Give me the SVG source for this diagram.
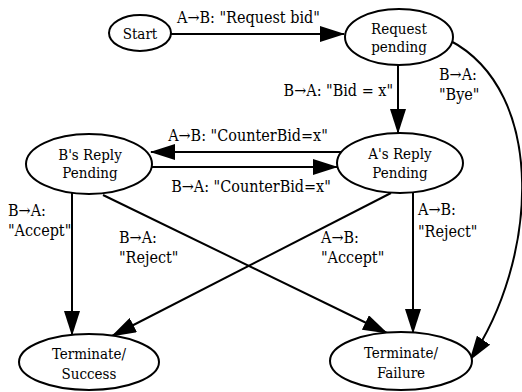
<svg xmlns="http://www.w3.org/2000/svg" width="522" height="392" viewBox="0 0 522 392">
<style>
  text { font-family: 'DejaVu Serif', serif; font-size: 15px; font-stretch: condensed; fill: #000; }
  .l { font-size: 16px; }
  .c { text-anchor: middle; }
  .e { text-anchor: end; }
  ellipse { fill: #fff; stroke: #000; stroke-width: 2; }
  .edge { fill: none; stroke: #000; stroke-width: 2; marker-end: url(#ah); }
</style>
<defs>
  <marker id="ah" markerUnits="userSpaceOnUse" viewBox="0 0 25 16" markerWidth="25" markerHeight="16" refX="24" refY="8" orient="auto">
    <path d="M0,0 L25,8 L0,16 z" fill="#000"/>
  </marker>
</defs>
<rect width="522" height="392" fill="#fff"/>
<g id="connectors">
  <path class="edge" d="M171,34 L344,34"/>
  <path class="edge" d="M398,65 L398,133"/>
  <path class="edge" d="M341,152 L151,152"/>
  <path class="edge" d="M152,167 L337,167"/>
  <path class="edge" d="M72,193 L72,335"/>
  <path class="edge" d="M103,195 L387,333"/>
  <path class="edge" d="M391,193 L112,336"/>
  <path class="edge" d="M413,193 L413,333"/>
  <path class="edge" d="M449,40 C549,92 537,262 470,360"/>
  <text class="l" x="177" y="23">A→B: "Request bid"</text>
  <text class="l e" x="393" y="96">B→A: "Bid = x"</text>
  <text class="l" x="439" y="80">B→A:</text>
  <text class="l" x="439" y="100">"Bye"</text>
  <text class="l c" x="248" y="141">A→B: "CounterBid=x"</text>
  <text class="l c" x="251" y="192">B→A: "CounterBid=x"</text>
  <text class="l" x="8" y="216">B→A:</text>
  <text class="l" x="8" y="236">"Accept"</text>
  <text class="l" x="119" y="243">B→A:</text>
  <text class="l" x="119" y="263">"Reject"</text>
  <text class="l" x="321" y="243">A→B:</text>
  <text class="l" x="321" y="263">"Accept"</text>
  <text class="l" x="418" y="215">A→B:</text>
  <text class="l" x="418" y="237">"Reject"</text>
</g>
<g id="start">
  <ellipse cx="140" cy="33" rx="31" ry="18"/>
  <text class="c" x="140" y="39">Start</text>
</g>
<g id="request-pending">
  <ellipse cx="399" cy="37" rx="54" ry="28"/>
  <text class="c" x="399" y="34">Request</text>
  <text class="c" x="399" y="52">pending</text>
</g>
<g id="b-reply-pending">
  <ellipse cx="89" cy="164" rx="63" ry="30"/>
  <text class="c" x="90" y="160">B's Reply</text>
  <text class="c" x="90" y="178">Pending</text>
</g>
<g id="a-reply-pending">
  <ellipse cx="400" cy="163" rx="63" ry="30"/>
  <text class="c" x="400" y="159">A's Reply</text>
  <text class="c" x="400" y="178">Pending</text>
</g>
<g id="terminate-success">
  <ellipse cx="89" cy="362" rx="70" ry="28"/>
  <text class="c" x="89" y="359">Terminate/</text>
  <text class="c" x="89" y="379">Success</text>
</g>
<g id="terminate-failure">
  <ellipse cx="401" cy="361" rx="71" ry="29"/>
  <text class="c" x="401" y="358">Terminate/</text>
  <text class="c" x="401" y="378">Failure</text>
</g>
</svg>
